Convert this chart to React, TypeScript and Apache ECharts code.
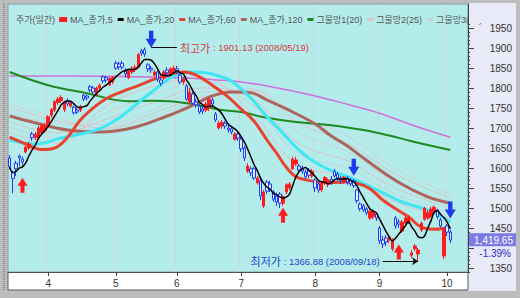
import React, { useEffect, useRef } from 'react';
import * as echarts from 'echarts';

// ---------- calendar (KOSPI trading days, 2008) ----------
const year = 2008;
const monthNums = [3, 4, 5, 6, 7, 8, 9, 10];
const marDays = [14, 17, 18, 19, 20, 21, 24, 25, 26, 27, 28, 31];
const aprDays = [1, 2, 3, 4, 7, 8, 10, 11, 14, 15, 16, 17, 18, 21, 22, 23, 24, 25, 28, 29, 30];
const mayDays = [2, 6, 7, 8, 9, 13, 14, 15, 16, 19, 20, 21, 22, 23, 26, 27, 28, 29, 30];
const junDays = [2, 3, 4, 5, 9, 10, 11, 12, 13, 16, 17, 18, 19, 20, 23, 24, 25, 26, 27, 30];
const julDays = [1, 2, 3, 4, 7, 8, 9, 10, 11, 14, 15, 16, 17, 18, 21, 22, 23, 24, 25, 28, 29, 30, 31];
const augDays = [1, 4, 5, 6, 7, 8, 11, 12, 13, 14, 18, 19, 20, 21, 22, 25, 26, 27, 28, 29];
const sepDays = [1, 2, 3, 4, 5, 8, 9, 10, 11, 12, 16, 17, 18, 19, 22, 23, 24, 25, 26, 29, 30];
const octDays = [1, 2];
const daysByMonth = [marDays, aprDays, mayDays, junDays, julDays, augDays, sepDays, octDays];
const padSlots = 5;

// ---------- daily candles: [open, close, low, high] ----------
const ohlcMar = [
  [1625, 1603, 1597, 1632], [1588, 1574, 1537, 1592], [1612, 1598, 1580, 1618], [1630, 1625, 1605, 1634],
  [1622, 1615, 1606, 1628], [1640, 1652, 1636, 1656], [1650, 1660, 1645, 1666], [1685, 1676, 1668, 1690],
  [1676, 1684, 1670, 1690], [1675, 1700, 1670, 1705], [1688, 1706, 1682, 1712], [1695, 1704, 1688, 1712],
];
const ohlcApr = [
  [1705, 1728, 1700, 1732], [1732, 1746, 1726, 1750], [1745, 1766, 1740, 1770], [1764, 1772, 1758, 1778],
  [1768, 1776, 1762, 1782], [1746, 1764, 1740, 1768], [1768, 1760, 1754, 1774], [1755, 1763, 1750, 1768],
  [1752, 1738, 1733, 1756], [1745, 1740, 1735, 1750], [1745, 1754, 1740, 1758], [1782, 1772, 1767, 1786],
  [1780, 1775, 1769, 1784], [1803, 1795, 1789, 1808], [1800, 1790, 1785, 1805], [1784, 1800, 1780, 1804],
  [1800, 1807, 1795, 1811], [1828, 1818, 1812, 1832], [1826, 1820, 1814, 1830], [1808, 1824, 1805, 1828],
  [1815, 1826, 1810, 1830],
];
const ohlcMay = [
  [1862, 1850, 1845, 1868], [1860, 1853, 1846, 1866], [1862, 1852, 1846, 1868], [1845, 1835, 1826, 1850],
  [1826, 1843, 1822, 1848], [1840, 1848, 1835, 1855], [1848, 1852, 1840, 1858], [1852, 1884, 1850, 1888],
  [1893, 1887, 1880, 1898], [1896, 1885, 1878, 1901.13], [1858, 1848, 1840, 1862], [1849, 1845, 1838, 1855],
  [1832, 1840, 1828, 1845], [1840, 1822, 1815, 1844], [1820, 1812, 1805, 1826], [1825, 1840, 1820, 1845],
  [1845, 1838, 1830, 1852], [1835, 1848, 1832, 1852], [1842, 1850, 1838, 1856],
];
const ohlcJun = [
  [1848, 1840, 1835, 1855], [1832, 1815, 1810, 1836], [1815, 1822, 1808, 1828], [1805, 1772, 1768, 1810],
  [1765, 1790, 1760, 1800], [1785, 1762, 1758, 1790], [1765, 1758, 1750, 1772], [1755, 1740, 1735, 1760],
  [1748, 1742, 1735, 1755], [1745, 1760, 1740, 1765], [1750, 1772, 1742, 1776], [1770, 1760, 1752, 1775],
  [1735, 1720, 1715, 1740], [1700, 1712, 1696, 1718], [1705, 1714, 1698, 1720], [1712, 1705, 1698, 1718],
  [1700, 1695, 1688, 1708], [1698, 1690, 1684, 1705], [1672, 1685, 1668, 1690], [1685, 1675, 1668, 1690],
];
const ohlcJul = [
  [1672, 1648, 1640, 1678], [1650, 1625, 1618, 1656], [1592, 1605, 1588, 1612], [1598, 1588, 1580, 1604],
  [1598, 1575, 1570, 1602], [1563, 1575, 1558, 1580], [1568, 1530, 1520, 1572], [1505, 1540, 1500, 1545],
  [1565, 1542, 1535, 1570], [1560, 1548, 1540, 1568], [1540, 1522, 1515, 1545], [1530, 1515, 1505, 1538],
  [1535, 1512, 1500, 1540], [1512, 1528, 1505, 1532], [1540, 1558, 1535, 1562], [1550, 1560, 1545, 1565],
  [1598, 1622, 1595, 1628], [1610, 1620, 1605, 1628], [1605, 1595, 1588, 1610], [1600, 1592, 1585, 1606],
  [1590, 1578, 1572, 1596], [1595, 1582, 1575, 1600], [1580, 1592, 1575, 1598],
];
const ohlcAug = [
  [1570, 1550, 1540, 1574], [1560, 1545, 1538, 1566], [1545, 1560, 1540, 1565], [1562, 1576, 1558, 1580],
  [1560, 1570, 1552, 1574], [1572, 1565, 1558, 1580], [1592, 1580, 1576, 1598], [1585, 1575, 1568, 1590],
  [1575, 1568, 1560, 1580], [1565, 1577, 1560, 1580], [1575, 1565, 1558, 1580], [1570, 1560, 1555, 1575],
  [1568, 1556, 1550, 1572], [1545, 1518, 1512, 1548], [1510, 1498, 1492, 1514], [1505, 1495, 1490, 1510],
  [1498, 1488, 1482, 1502], [1475, 1492, 1470, 1496], [1478, 1490, 1472, 1494], [1485, 1475, 1468, 1490],
];
const ohlcSep = [
  [1450, 1418, 1410, 1455], [1420, 1410, 1400, 1430], [1425, 1415, 1405, 1432], [1420, 1425, 1412, 1432],
  [1398, 1420, 1392, 1425], [1475, 1455, 1448, 1480], [1465, 1460, 1450, 1472], [1442, 1465, 1438, 1470],
  [1463, 1475, 1458, 1480], [1465, 1477, 1460, 1482], [1382, 1388, 1375, 1395], [1398, 1405, 1392, 1410],
  [1385, 1395, 1366.88, 1400], [1445, 1462, 1440, 1466], [1472, 1500, 1468, 1503], [1475, 1488, 1470, 1495],
  [1480, 1497, 1476, 1503], [1490, 1502, 1485, 1506], [1495, 1478, 1472, 1498], [1470, 1455, 1450, 1475],
  [1380, 1448, 1373, 1452],
];
const ohlcOct = [
  [1455, 1439.67, 1430, 1460], [1440, 1419.65, 1412, 1445],
];

// ---------- moving-average lines (trading-day index, value) ----------
const ma20Idx = [0, 5, 10, 14, 18, 22, 26, 30, 35, 40, 45, 50, 54, 58, 63, 68, 72, 76, 80, 83, 86, 89, 93, 98, 104, 108, 112, 116, 120, 124, 128, 132, 137];
const ma20Val = [1677, 1660, 1646, 1650, 1677, 1720, 1750, 1773, 1791, 1806, 1822, 1835, 1840, 1832, 1807, 1777, 1747, 1717, 1670, 1637, 1602, 1578, 1569, 1563, 1565, 1562, 1548, 1520, 1498, 1478, 1452, 1447, 1452];
const ma60Idx = [0, 7, 18, 28, 38, 49, 57, 63, 69, 75, 80, 88, 95, 100, 105, 110, 116, 123, 130, 137];
const ma60Val = [1730, 1715, 1695, 1690, 1700, 1730, 1757, 1780, 1790, 1788, 1770, 1740, 1710, 1680, 1655, 1625, 1590, 1555, 1528, 1512];
const ma120Idx = [0, 12, 24, 37, 45, 55, 66, 72, 79, 89, 100, 106, 115, 125, 137];
const ma120Val = [1840, 1807, 1787, 1767, 1768, 1762, 1745, 1740, 1727, 1715, 1707, 1700, 1687, 1667, 1645];
const cyanIdx = [0, 8, 16, 22, 28, 34, 38, 41, 45, 51, 56, 61, 65, 69, 75, 79, 84, 89, 93, 97, 101, 106, 113, 118, 122, 126, 130, 134, 137];
const cyanVal = [1670, 1660, 1675, 1685, 1698, 1725, 1750, 1770, 1795, 1830, 1840, 1838, 1830, 1817, 1775, 1737, 1695, 1652, 1625, 1605, 1590, 1575, 1550, 1530, 1515, 1505, 1495, 1480, 1465];
const magentaIdx = [0, 20, 40, 55, 65, 72, 82, 94, 106, 115, 126, 137];
const magentaVal = [1830, 1830, 1828, 1825, 1820, 1815, 1802, 1782, 1757, 1737, 1705, 1677];
const netIdx = [0, 15, 30, 45, 60, 75, 90, 105, 120, 137];
const net1 = [1688, 1662, 1755, 1805, 1825, 1740, 1605, 1580, 1515, 1475];
const net2 = [1702, 1675, 1738, 1785, 1815, 1760, 1635, 1600, 1535, 1488];
const net3 = [1716, 1688, 1722, 1765, 1800, 1775, 1660, 1618, 1550, 1500];
const net4 = [1742, 1710, 1708, 1748, 1790, 1790, 1688, 1640, 1565, 1515];
const net5 = [1752, 1718, 1700, 1738, 1778, 1795, 1712, 1662, 1585, 1525];
const net6 = [1760, 1725, 1698, 1730, 1770, 1798, 1730, 1680, 1598, 1535];
const netNames = ['그물망1(20)', '그물망2(25)', '그물망3(30)', '그물망4(35)', '그물망5(40)', '그물망6(45)'];

// ---------- signals (trading-day index, price level of the arrow) ----------
const buyIdx = [4, 85, 121];
const buyLevel = [1557, 1482, 1390];
const sellIdx = [44, 107, 137];
const sellLevel = [1922, 1602, 1495];
const highLeader = [44, 52];
const lowLeader = [116, 127];

// 1400 sits under the last-price box in the original, so it carries a tick only
const yTickValues = [1350, 1400, 1450, 1500, 1550, 1600, 1650, 1700, 1750, 1800, 1850, 1900, 1950];
const yLabelValues = [1350, 1450, 1500, 1550, 1600, 1650, 1700, 1750, 1800, 1850, 1900, 1950];
const legendNames = ['주가(일간)', 'MA_종가,5', 'MA_종가,20', 'MA_종가,60', 'MA_종가,120', '그물망1(20)', '그물망2(25)', '그물망3(30)'];

const pad2 = (n: number) => (n < 10 ? '0' + n : String(n));

export default function App() {
  const ref = useRef<HTMLDivElement>(null);

  useEffect(() => {
    if (!ref.current) return;
    const chart = echarts.init(ref.current, null, { renderer: 'svg' });

    const categories: string[] = [];
    const monthStart: Record<number, string> = {};
    daysByMonth.forEach((days, k) => {
      days.forEach((d, j) => {
        if (j === 0 && k > 0) monthStart[categories.length] = String(monthNums[k]);
        categories.push(`${year}/${pad2(monthNums[k])}/${pad2(d)}`);
      });
    });
    for (let p = 0; p < padSlots; p++) categories.push(`pad${p}`);
    const isMonthStart = (i: number) => monthStart[i] !== undefined;

    const ohlc = [...ohlcMar, ...ohlcApr, ...ohlcMay, ...ohlcJun, ...ohlcJul, ...ohlcAug, ...ohlcSep, ...ohlcOct];
    const closes = ohlc.map((r) => r[1]);
    const ma5 = closes.map((_, i) => {
      const s = closes.slice(Math.max(0, i - 4), i + 1);
      return +(s.reduce((a, b) => a + b, 0) / s.length).toFixed(2);
    });
    let hiI = 0, loI = 0;
    ohlc.forEach((r, i) => {
      if (r[3] > ohlc[hiI][3]) hiI = i;
      if (r[2] < ohlc[loI][2]) loI = i;
    });
    const hiVal = ohlc[hiI][3];
    const loVal = ohlc[loI][2];
    const last = closes[closes.length - 1];
    const prev = closes[closes.length - 2];
    const chg = ((last / prev - 1) * 100).toFixed(2) + '%';

    const pairs = (idx: number[], val: number[]) => idx.map((x, k) => [x, val[k]]);
    const lineSeries = (name: string, data: any, color: string, width: number, z = 2) => ({
      type: 'line', name, data, showSymbol: false, symbol: 'none', smooth: 0.4, z,
      lineStyle: { color, width }, itemStyle: { color }, silent: true,
    });

    const upArrow = 'path://M5 0 L10 8 L7 8 L7 15 L3 15 L3 8 L0 8 Z';
    const downArrow = 'path://M3 0 L7 0 L7 7 L10 7 L5 15 L0 7 L3 7 Z';
    const netColors = ['#dcc2c2', '#cdd0d8', '#dcc2c2', '#cdd0d8', '#dcc2c2', '#cdd0d8'];
    const nets = [net1, net2, net3, net4, net5, net6];

    const narrow = "'Liberation Sans Narrow', 'Liberation Sans', sans-serif";
    const kr = "'Noto Sans CJK KR', sans-serif";
    const mixed = "'Liberation Sans', 'Noto Sans CJK KR', sans-serif";

    const option: any = {
      animation: false,
      grid: { left: 8, right: 52, top: 4, bottom: 26, show: true, backgroundColor: '#b4ecec', borderColor: '#8a9c9c', borderWidth: 1 },
      legend: {
        data: legendNames, left: 11, top: 10, width: 1200, icon: 'rect', itemWidth: 6, itemHeight: 3,
        itemGap: 3, align: 'right', selectedMode: false,
        textStyle: { fontSize: 9, color: '#555', fontFamily: mixed, padding: [0, 0, 0, 0] },
      },
      xAxis: {
        type: 'category', data: categories, boundaryGap: true,
        axisLine: { show: true, lineStyle: { color: '#505050' } },
        axisTick: { show: true, interval: (i: number) => isMonthStart(i), alignWithLabel: true, length: 4, lineStyle: { color: '#404040' } },
        axisLabel: { interval: (i: number) => isMonthStart(i), formatter: (_v: string, i: number) => monthStart[i] || '', fontSize: 10, color: '#333', margin: 6, fontFamily: 'Liberation Sans' },
        splitLine: { show: true, interval: (i: number) => isMonthStart(i), lineStyle: { color: '#cbd8d8', width: 1 } },
      },
      yAxis: [
        {
          type: 'value', position: 'right', min: 1340, max: 2010, interval: 10,
          axisLine: { show: true, lineStyle: { color: '#404040' } },
          axisTick: { show: true, length: 2, lineStyle: { color: '#404040' } },
          axisLabel: { customValues: yLabelValues, formatter: (v: number) => String(v), align: 'right', margin: 44, fontSize: 10, color: '#333', fontFamily: 'Liberation Sans' },
          splitLine: { show: false },
        },
        {
          type: 'value', position: 'right', min: 1340, max: 2010,
          axisLine: { show: false },
          axisTick: { show: true, customValues: yTickValues, length: 6, lineStyle: { color: '#404040' } },
          axisLabel: { show: false },
          splitLine: { show: false },
        },
      ],
      series: [
        ...nets.map((n, k) => lineSeries(netNames[k], pairs(netIdx, n), netColors[k], 1, 1)),
        lineSeries('MA_종가,200', pairs(magentaIdx, magentaVal), '#d070dc', 1.5),
        lineSeries('MA_종가,120', pairs(ma120Idx, ma120Val), '#1e8a1e', 2),
        lineSeries('MA_종가,60', pairs(ma60Idx, ma60Val), '#ad665e', 3),
        lineSeries('MA_종가,40', pairs(cyanIdx, cyanVal), '#3fe6f4', 3),
        lineSeries('MA_종가,20', pairs(ma20Idx, ma20Val), '#e8432e', 3),
        {
          type: 'candlestick', name: '주가(일간)', data: ohlc, barWidth: 3, z: 3,
          itemStyle: { color: '#ff1c1c', borderColor: '#ff1c1c', color0: '#e4ecff', borderColor0: '#1c3cf0', borderWidth: 1 },
          markPoint: {
            z: 10,
            label: { show: false },
            data: [
              ...buyIdx.map((x, k) => ({ coord: [categories[x], buyLevel[k]], symbol: upArrow, symbolSize: [10, 15], itemStyle: { color: '#ff1c1c' } })),
              ...sellIdx.map((x, k) => ({ coord: [categories[x], sellLevel[k]], symbol: downArrow, symbolSize: [11, 17], itemStyle: { color: '#1c3cf0' } })),
            ],
          },
          markLine: {
            silent: true, symbol: ['none', 'none'], symbolSize: 6,
            lineStyle: { color: '#111', width: 1, type: 'solid' },
            data: [
              [
                { coord: [categories[highLeader[0]], hiVal], symbol: 'none' },
                {
                  coord: [categories[highLeader[1]], hiVal], symbol: 'none',
                  label: {
                    show: true, position: 'end', distance: 3,
                    formatter: `{a|최고가}{b| : ${hiVal.toFixed(2)} (${categories[hiI]})}`,
                    rich: { a: { fontSize: 11, color: '#d23c3c', fontFamily: kr }, b: { fontSize: 9.5, color: '#d23c3c', fontFamily: narrow } },
                  },
                },
              ],
              [
                { coord: [categories[lowLeader[0]], loVal], symbol: 'none' },
                {
                  coord: [categories[lowLeader[1]], loVal], symbol: 'arrow', symbolSize: 6,
                  label: {
                    show: true, position: 'start', distance: 3,
                    formatter: `{a|최저가}{b| : ${loVal.toFixed(2)} (${categories[loI]})}`,
                    rich: { a: { fontSize: 11, color: '#2446c8', fontFamily: kr }, b: { fontSize: 9.5, color: '#2446c8', fontFamily: narrow } },
                  },
                },
              ],
            ],
          },
        },
        { ...lineSeries('MA_종가,5', ma5, '#000000', 1.5, 4), smooth: 0.3 },
      ],
      graphic: {
        elements: [
          { id: 'panelR', type: 'rect', z: -10, shape: { x: 468, y: 3, width: 48, height: 288 }, style: { fill: '#e9eaf7' } },
          { id: 'xbox', type: 'rect', z: -10, shape: { x: 8, y: 272, width: 460, height: 18 }, style: { fill: '#ffffff', stroke: '#5a5a5a', lineWidth: 1 } },
          { id: 'lframe', type: 'line', z: -5, shape: { x1: 4, y1: 3, x2: 4, y2: 290 }, style: { stroke: '#8c8c8c', lineWidth: 2, lineDash: [1, 1] } },
          { id: 'legendCover', type: 'rect', z: 100, shape: { x: 469, y: 3, width: 47, height: 20 }, style: { fill: '#e9eaf7' } },
        ],
      },
    };

    chart.setOption(option);

    const py = chart.convertToPixel({ yAxisIndex: 0 }, last) as number;
    const lastText = last.toLocaleString('en-US', { minimumFractionDigits: 2, maximumFractionDigits: 2 });
    chart.setOption({
      graphic: {
        elements: [
          { id: 'pbox', type: 'rect', z: 100, shape: { x: 469, y: py - 7, width: 47, height: 13 }, style: { fill: '#7b7be6' } },
          { id: 'ptxt', type: 'text', z: 101, x: 513, y: py, style: { text: lastText, fill: '#ffffff', font: '10px "Liberation Sans"', textAlign: 'right', textVerticalAlign: 'middle', align: 'right', verticalAlign: 'middle' } },
          { id: 'pchg', type: 'text', z: 101, x: 511, y: py + 13, style: { text: chg, fill: '#2b2bd6', font: '10px "Liberation Sans"', textAlign: 'right', textVerticalAlign: 'middle', align: 'right', verticalAlign: 'middle' } },
        ],
      },
    });

    return () => chart.dispose();
  }, []);

  return <div ref={ref} style={{ position: 'fixed', left: 0, top: 0, width: 520, height: 298, background: '#bdbdbd' }} />;
}
